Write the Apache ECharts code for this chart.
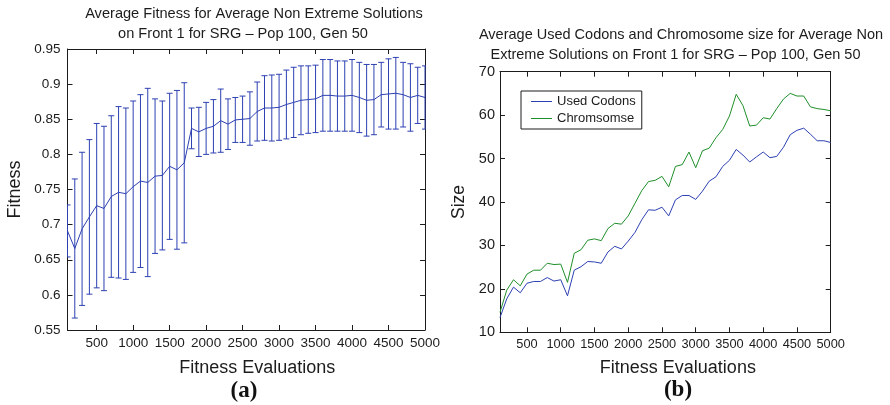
<!DOCTYPE html>
<html>
<head>
<meta charset="utf-8">
<script src="https://cdn.jsdelivr.net/npm/echarts@6/dist/echarts.min.js"></script>
<style>
  html, body { margin: 0; padding: 0; background: #fff; }
  #chart { width: 890px; height: 405px; }
</style>
</head>
<body>
<div id="chart"></div>
<script>
// Fitness evaluations (x values shared by both panels)
const evaluations = [
  100, 200, 300, 400, 500, 600, 700, 800, 900, 1000,
  1100, 1200, 1300, 1400, 1500, 1600, 1700, 1800, 1900, 2000,
  2100, 2200, 2300, 2400, 2500, 2600, 2700, 2800, 2900, 3000,
  3100, 3200, 3300, 3400, 3500, 3600, 3700, 3800, 3900, 4000,
  4100, 4200, 4300, 4400, 4500, 4600, 4700, 4800, 4900, 5000
];

// Panel (a): mean fitness and its standard deviation
const fitnessMean = [
  0.691, 0.666, 0.694, 0.711, 0.727, 0.723, 0.740, 0.746, 0.744, 0.754,
  0.762, 0.760, 0.769, 0.770, 0.783, 0.778, 0.788, 0.837, 0.832, 0.837,
  0.840, 0.848, 0.843, 0.849, 0.850, 0.851, 0.861, 0.866, 0.866, 0.867,
  0.871, 0.874, 0.877, 0.878, 0.879, 0.884, 0.884, 0.883, 0.883, 0.884,
  0.881, 0.877, 0.878, 0.885, 0.886, 0.887, 0.885, 0.881, 0.884, 0.881
];
const fitnessStd = [
  0.037, 0.099, 0.109, 0.110, 0.117, 0.117, 0.115, 0.122, 0.122, 0.122,
  0.123, 0.134, 0.110, 0.106, 0.104, 0.113, 0.114, 0.029, 0.035, 0.037,
  0.038, 0.045, 0.036, 0.032, 0.033, 0.038, 0.042, 0.046, 0.047, 0.047,
  0.049, 0.050, 0.049, 0.048, 0.048, 0.051, 0.051, 0.050, 0.050, 0.051,
  0.050, 0.051, 0.050, 0.046, 0.050, 0.051, 0.046, 0.048, 0.040, 0.045
];

// Panel (b): average used codons and chromosome size
const usedCodons = [
  13.4, 17.7, 20.4, 19.1, 21.3, 21.7, 21.7, 22.6, 21.8, 22.1,
  18.4, 24.3, 25.1, 26.3, 26.2, 25.9, 28.5, 29.8, 29.2, 31.0,
  33.0, 35.9, 38.2, 38.1, 38.8, 36.8, 40.5, 41.5, 41.5, 40.6,
  42.5, 44.8, 45.8, 48.2, 49.6, 52.1, 50.8, 49.2, 50.4, 51.5,
  50.2, 50.5, 52.6, 55.5, 56.5, 57.0, 55.6, 54.1, 54.1, 53.7
];
const chromosome = [
  14.6, 19.7, 22.1, 20.7, 23.4, 24.3, 24.3, 25.9, 25.6, 25.7,
  21.5, 28.2, 29.0, 31.2, 31.5, 31.1, 33.9, 35.1, 34.9, 36.8,
  39.7, 42.6, 44.7, 45.0, 45.9, 43.5, 48.2, 48.6, 51.5, 47.9,
  51.8, 52.4, 54.8, 56.7, 59.8, 64.8, 62.2, 57.5, 57.7, 59.4,
  59.1, 61.5, 63.7, 65.0, 64.4, 64.4, 61.9, 61.5, 61.3, 61.0
];

// Tick positions
const evalTicks = [500, 1000, 1500, 2000, 2500, 3000, 3500, 4000, 4500, 5000];
const fitnessTicks = [0.55, 0.6, 0.65, 0.7, 0.75, 0.8, 0.85, 0.9, 0.95];
const sizeTicks = [10, 20, 30, 40, 50, 60, 70];

const FONT = '"Liberation Sans", Arial, Helvetica, sans-serif';
const INK = '#1c1c1c';
const BLUE = '#2d40b2';
const GREEN = '#1f8f2a';

// One side of a MATLAB-style boxed frame: inward ticks on every edge
function frameAxis(gridIndex, position, range, ticks, label, extra) {
  const axis = {
    type: 'value',
    gridIndex,
    position,
    min: range[0],
    max: range[1],
    axisLine: { show: true, onZero: false, lineStyle: { color: INK, width: 1 } },
    axisTick: { show: true, inside: true, length: 5, customValues: ticks, lineStyle: { color: INK, width: 1 } },
    axisLabel: label
      ? {
          show: true, customValues: ticks, color: INK, fontFamily: FONT,
          fontSize: label.size, margin: label.margin, hideOverlap: false,
          formatter: (v) => String(+v.toFixed(2))
        }
      : { show: false },
    splitLine: { show: false }
  };
  return Object.assign(axis, extra || {});
}

const axisNameStyle = (size, shift) => ({
  color: INK, fontFamily: FONT, fontSize: size,
  padding: shift ? [0, 0, 0, shift] : 0
});

const option = {
  backgroundColor: '#ffffff',
  animation: false,
  grid: [
    { left: 67.5, top: 49, width: 357.5, height: 281 },
    { left: 500, top: 71.7, width: 330.7, height: 260.6 }
  ],
  xAxis: [
    frameAxis(0, 'bottom', [100, 5000], evalTicks, { size: 13.5, margin: 6 }, {
      name: 'Fitness Evaluations', nameLocation: 'middle', nameGap: 29, nameTextStyle: axisNameStyle(18, 22)
    }),
    frameAxis(0, 'top', [100, 5000], evalTicks, null),
    frameAxis(1, 'bottom', [100, 5000], evalTicks, { size: 12.8, margin: 6 }, {
      name: 'Fitness Evaluations', nameLocation: 'middle', nameGap: 27, nameTextStyle: axisNameStyle(18, 25)
    }),
    frameAxis(1, 'top', [100, 5000], evalTicks, null)
  ],
  yAxis: [
    frameAxis(0, 'left', [0.55, 0.95], fitnessTicks, { size: 13.5, margin: 7 }, {
      name: 'Fitness', nameLocation: 'middle', nameGap: 43, nameTextStyle: axisNameStyle(18)
    }),
    frameAxis(0, 'right', [0.55, 0.95], fitnessTicks, null),
    frameAxis(1, 'left', [10, 70], sizeTicks, { size: 14.5, margin: 5 }, {
      name: 'Size', nameLocation: 'middle', nameGap: 32, nameTextStyle: axisNameStyle(17.5)
    }),
    frameAxis(1, 'right', [10, 70], sizeTicks, null)
  ],
  legend: {
    data: ['Used Codons', 'Chromsomse'],
    orient: 'vertical',
    left: 521,
    top: 91,
    padding: [3, 6, 3, 10],
    itemGap: 2,
    itemWidth: 21,
    itemHeight: 1,
    icon: 'rect',
    backgroundColor: '#ffffff',
    borderColor: INK,
    borderWidth: 1,
    borderRadius: 0,
    textStyle: { color: INK, fontFamily: FONT, fontSize: 13, lineHeight: 15 }
  },
  graphic: [
    { type: 'text', x: 254, y: 14, style: { text: 'Average Fitness for Average Non Extreme Solutions', font: '14.6px ' + FONT, fill: INK, align: 'center', verticalAlign: 'middle' } },
    { type: 'text', x: 243, y: 34, style: { text: 'on Front 1 for SRG \u2013 Pop 100, Gen 50', font: '14.6px ' + FONT, fill: INK, align: 'center', verticalAlign: 'middle' } },
    { type: 'text', x: 681, y: 34.7, style: { text: 'Average Used Codons and Chromosome size for Average Non', font: '14.5px ' + FONT, fill: INK, align: 'center', verticalAlign: 'middle' } },
    { type: 'text', x: 675.5, y: 55, style: { text: 'Extreme Solutions on Front 1 for SRG \u2013 Pop 100, Gen 50', font: '14.5px ' + FONT, fill: INK, align: 'center', verticalAlign: 'middle' } },
    { type: 'text', x: 244, y: 391.5, style: { text: '(a)', font: 'bold 23px "Liberation Serif", "Times New Roman", serif', fill: '#111', align: 'center', verticalAlign: 'middle' } },
    { type: 'text', x: 678, y: 390, style: { text: '(b)', font: 'bold 23px "Liberation Serif", "Times New Roman", serif', fill: '#111', align: 'center', verticalAlign: 'middle' } }
  ],
  series: [
    {
      // standard-deviation bars around the mean fitness
      type: 'custom',
      name: 'Fitness spread',
      xAxisIndex: 0,
      yAxisIndex: 0,
      clip: true,
      z: 2,
      encode: { x: 0, y: [1, 2] },
      data: evaluations.map((x, i) => [x, fitnessMean[i] - fitnessStd[i], fitnessMean[i] + fitnessStd[i]]),
      renderItem: (params, api) => {
        const x = api.value(0);
        const lo = api.coord([x, api.value(1)]);
        const hi = api.coord([x, api.value(2)]);
        const hw = 3;
        const st = { stroke: BLUE, lineWidth: 1 };
        return {
          type: 'group',
          children: [
            { type: 'line', shape: { x1: lo[0], y1: lo[1], x2: hi[0], y2: hi[1] }, style: st },
            { type: 'line', shape: { x1: lo[0] - hw, y1: lo[1], x2: lo[0] + hw, y2: lo[1] }, style: st },
            { type: 'line', shape: { x1: hi[0] - hw, y1: hi[1], x2: hi[0] + hw, y2: hi[1] }, style: st }
          ]
        };
      }
    },
    {
      type: 'line',
      name: 'Average fitness',
      xAxisIndex: 0,
      yAxisIndex: 0,
      showSymbol: false,
      z: 3,
      lineStyle: { color: BLUE, width: 1 },
      itemStyle: { color: BLUE },
      data: evaluations.map((x, i) => [x, fitnessMean[i]])
    },
    {
      type: 'line',
      name: 'Used Codons',
      xAxisIndex: 2,
      yAxisIndex: 2,
      showSymbol: false,
      lineStyle: { color: BLUE, width: 1 },
      itemStyle: { color: BLUE },
      data: evaluations.map((x, i) => [x, usedCodons[i]])
    },
    {
      type: 'line',
      name: 'Chromsomse',
      xAxisIndex: 2,
      yAxisIndex: 2,
      showSymbol: false,
      lineStyle: { color: GREEN, width: 1 },
      itemStyle: { color: GREEN },
      data: evaluations.map((x, i) => [x, chromosome[i]])
    }
  ]
};

const chart = echarts.init(document.getElementById('chart'), null, { renderer: 'canvas' });
chart.setOption(option);
</script>
</body>
</html>
